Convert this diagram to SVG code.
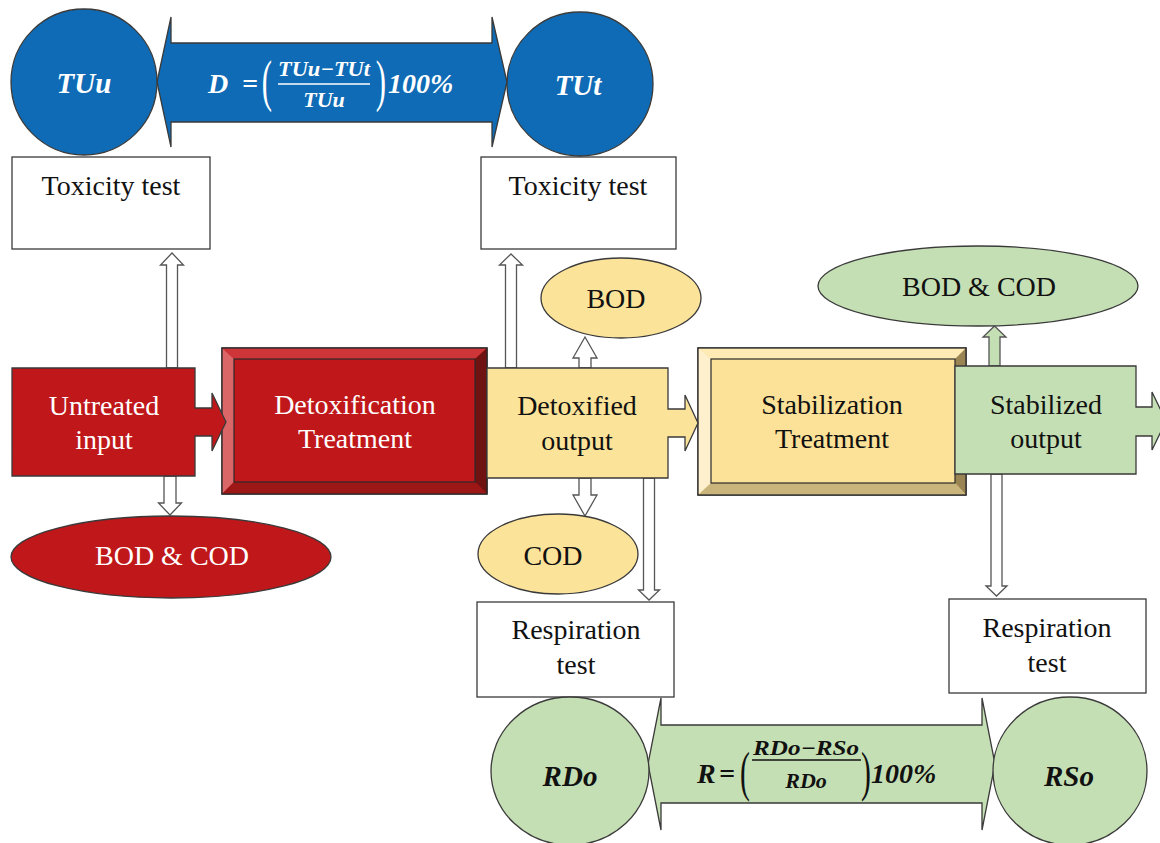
<svg xmlns="http://www.w3.org/2000/svg" width="1160" height="843" viewBox="0 0 1160 843">
<style>
.ln{stroke:#3a3a3a;stroke-width:1.3}
.hol{fill:#fff;stroke:#555;stroke-width:1.3}
.t{font-family:"Liberation Serif","Times New Roman",serif;font-size:28px;text-anchor:middle}
.w{fill:#fff}
.k{fill:#111}
.m{font-family:"Liberation Serif","Times New Roman",serif;font-weight:bold;font-style:italic;text-anchor:middle}
.s{text-anchor:start}
.p{font-family:"Liberation Serif","Times New Roman",serif;font-weight:normal;text-anchor:middle}
.blue{fill:#0F6BB5}
.red{fill:#C0171A}
.yel{fill:#FCE39A}
.grn{fill:#C5DFB4}
.box{fill:#fff}
</style>
<rect width="1160" height="843" fill="#fff"/>

<g id="connectors">
  <polygon class="hol" points="172,253 183.5,265 177.5,265 177.5,368 166.5,368 166.5,265 160.5,265"/>
  <polygon class="hol" points="164,476 176,476 176,503 181.5,503 170,515 158.5,503 164,503"/>
  <polygon class="hol" points="511,254 522.5,265 516.5,265 516.5,368 505.5,368 505.5,265 499.5,265"/>
  <polygon class="hol" points="585,337 597,358 591,358 591,368 579,368 579,358 573,358"/>
  <polygon class="hol" points="579,478 591,478 591,495 597,495 585,516 573,495 579,495"/>
  <polygon class="hol" points="643.5,478 654.5,478 654.5,590 659.5,590 649,600 638.5,590 643.5,590"/>
  <polygon class="hol" style="fill:#C5DFB4" points="994.5,326 1006,337 1000,337 1000,366 989,366 989,337 983,337"/>
  <polygon class="hol" points="991,474 1002,474 1002,586 1007,586 996.5,596 986,586 991,586"/>
</g>

<g id="d-arrow">
  <polygon class="blue ln" points="157,82 171,17 171,43 492,43 492,17 507,82 492,147 492,122 171,122 171,147"/>
  <text class="m w s" x="208" y="93" font-size="28">D</text>
  <text class="m w s" x="242" y="93" font-size="28">=</text>
  <text class="p w" transform="translate(267,100) scale(0.55,1)" font-size="56">(</text>
  <text class="m w" x="324" y="76" font-size="21" textLength="92" lengthAdjust="spacingAndGlyphs">TUu−TUt</text>
  <line x1="278" y1="84" x2="370" y2="84" stroke="#fff" stroke-width="1.6"/>
  <text class="m w" x="324" y="107" font-size="22">TUu</text>
  <text class="p w" transform="translate(381,100) scale(0.55,1)" font-size="56">)</text>
  <text class="m w s" x="388" y="93" font-size="28">100%</text>
</g>

<g id="tuu">
  <ellipse class="blue ln" cx="84" cy="82" rx="73" ry="73"/>
  <text class="m w" x="84" y="93" font-size="29">TUu</text>
</g>
<g id="tut">
  <ellipse class="blue ln" cx="580" cy="84" rx="73" ry="72"/>
  <text class="m w" x="578" y="95" font-size="29">TUt</text>
</g>

<g id="tox1">
  <rect class="box ln" x="12" y="157" width="198" height="92"/>
  <text class="t k" x="111" y="195">Toxicity test</text>
</g>
<g id="tox2">
  <rect class="box ln" x="481" y="157" width="195" height="92"/>
  <text class="t k" x="578" y="195">Toxicity test</text>
</g>

<g id="detox">
  <rect x="222" y="348" width="265" height="146" fill="#C0171A" stroke="#2a2a2a" stroke-width="1.3"/>
  <polygon points="222,348 487,348 475,359 234,359" fill="#CE3539"/>
  <polygon points="222,348 234,359 234,482 222,494" fill="#DA6667"/>
  <polygon points="487,348 487,494 475,482 475,359" fill="#6E1311"/>
  <polygon points="222,494 487,494 475,482 234,482" fill="#9C1716"/>
  <rect x="234" y="359" width="241" height="123" fill="#C0171A" stroke="#2a2a2a" stroke-width="1.2"/>
  <rect x="222" y="348" width="265" height="146" fill="none" stroke="#2a2a2a" stroke-width="1.3"/>
  <text class="t w" x="355" y="414">Detoxification</text>
  <text class="t w" x="355" y="448">Treatment</text>
</g>

<g id="untreated">
  <polygon class="red ln" points="12,368 195,368 195,408 212,408 212,393 226,422 212,451 212,436 195,436 195,476 12,476"/>
  <text class="t w" x="104" y="415">Untreated</text>
  <text class="t w" x="104" y="449">input</text>
</g>

<g id="bodcod-red">
  <ellipse class="red ln" cx="171" cy="557" rx="160" ry="41"/>
  <text class="t w" x="172" y="565">BOD &amp; COD</text>
</g>

<g id="stab">
  <rect x="698" y="348" width="268" height="147" fill="#FCE298" stroke="#2a2a2a" stroke-width="1.3"/>
  <polygon points="698,348 966,348 955,359 711,359" fill="#FDEAB5"/>
  <polygon points="698,348 711,359 711,483 698,495" fill="#FEF0CC"/>
  <polygon points="966,348 966,495 955,483 955,359" fill="#9B8453"/>
  <polygon points="698,495 966,495 955,483 711,483" fill="#C9B47B"/>
  <rect x="711" y="359" width="244" height="124" fill="#FCE298" stroke="#2a2a2a" stroke-width="1.2"/>
  <rect x="698" y="348" width="268" height="147" fill="none" stroke="#2a2a2a" stroke-width="1.3"/>
  <text class="t k" x="832" y="414">Stabilization</text>
  <text class="t k" x="832" y="448">Treatment</text>
</g>

<g id="detoxified">
  <polygon class="yel ln" points="487,368 668,368 668,409 685,409 685,395 698,423 685,451 685,437 668,437 668,478 487,478"/>
  <text class="t k" x="577" y="415">Detoxified</text>
  <text class="t k" x="577" y="450">output</text>
</g>

<g id="bod">
  <ellipse class="yel ln" cx="621" cy="298" rx="80" ry="40"/>
  <text class="t k" x="616" y="308">BOD</text>
</g>
<g id="cod">
  <ellipse class="yel ln" cx="558" cy="554" rx="80" ry="40"/>
  <text class="t k" x="553" y="565">COD</text>
</g>

<g id="stabilized">
  <polygon class="grn ln" points="955,366 1136,366 1136,407 1152,407 1152,392 1166,421 1152,450 1152,436 1136,436 1136,474 955,474"/>
  <text class="t k" x="1046" y="414">Stabilized</text>
  <text class="t k" x="1046" y="448">output</text>
</g>

<g id="bodcod-green">
  <ellipse class="grn ln" cx="978" cy="286" rx="160" ry="40"/>
  <text class="t k" x="979" y="296">BOD &amp; COD</text>
</g>

<g id="resp1">
  <rect class="box ln" x="477" y="602" width="197" height="95"/>
  <text class="t k" x="576" y="639">Respiration</text>
  <text class="t k" x="576" y="674">test</text>
</g>
<g id="resp2">
  <rect class="box ln" x="949" y="599" width="197" height="94"/>
  <text class="t k" x="1047" y="637">Respiration</text>
  <text class="t k" x="1047" y="672">test</text>
</g>

<g id="r-arrow">
  <polygon class="grn ln" points="648,764 661,698 661,725 982,725 982,698 995,764 982,830 982,803 661,803 661,830"/>
  <text class="m k s" x="697" y="783" font-size="28">R</text>
  <text class="m k s" x="719" y="783" font-size="28">=</text>
  <text class="p k" transform="translate(745,790) scale(0.55,1)" font-size="54">(</text>
  <text class="m k" x="806" y="755" font-size="21" textLength="106" lengthAdjust="spacingAndGlyphs">RDo−RSo</text>
  <line x1="752" y1="760" x2="861" y2="760" stroke="#111" stroke-width="1.6"/>
  <text class="m k" x="806" y="788" font-size="22">RDo</text>
  <text class="p k" transform="translate(866,790) scale(0.55,1)" font-size="54">)</text>
  <text class="m k s" x="871" y="783" font-size="28">100%</text>
</g>

<g id="rdo">
  <ellipse class="grn ln" cx="570" cy="771" rx="79" ry="74"/>
  <text class="m k" x="570" y="786" font-size="29">RDo</text>
</g>
<g id="rso">
  <ellipse class="grn ln" cx="1070" cy="771" rx="77" ry="74"/>
  <text class="m k" x="1069" y="786" font-size="29">RSo</text>
</g>
</svg>
